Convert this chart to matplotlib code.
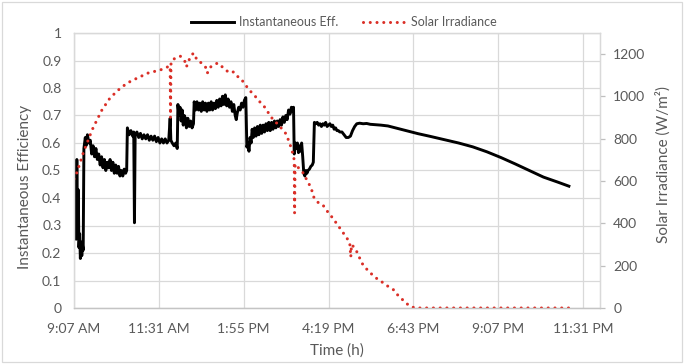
import matplotlib
matplotlib.use("Agg")
import matplotlib.pyplot as plt
from matplotlib.ticker import FixedLocator, FuncFormatter, MultipleLocator
from matplotlib.patches import Rectangle
from matplotlib.lines import Line2D

plt.rcParams['font.family'] = ['Lato', 'DejaVu Sans']

# time of day (hours) and instantaneous efficiency
eff_time = [
    9.12, 9.14, 9.16, 9.18, 9.20, 9.22, 9.24, 9.26, 9.28, 9.30, 9.32, 9.34,
    9.36, 9.38, 9.40, 9.42, 9.44, 9.46,
    9.50, 9.54, 9.58, 9.62, 9.66, 9.70, 9.74, 9.78, 9.82, 9.86, 9.90, 9.94,
    9.98, 10.02, 10.06, 10.10, 10.14, 10.18, 10.22, 10.26, 10.30, 10.34,
    10.38, 10.42, 10.46, 10.50, 10.54, 10.58, 10.61, 10.63,
    10.68, 10.73, 10.78, 10.81, 10.83, 10.85, 10.90, 10.95, 11.00, 11.05,
    11.10, 11.15, 11.20, 11.25, 11.30, 11.35, 11.40, 11.45, 11.50, 11.55,
    11.60, 11.65, 11.70, 11.75, 11.80, 11.84, 11.86, 11.90, 11.95, 12.00,
    12.04, 12.06,
    12.09, 12.12, 12.15, 12.18, 12.21, 12.24, 12.27, 12.30, 12.34, 12.38,
    12.42, 12.46, 12.50, 12.52, 12.56, 12.60, 12.64, 12.68, 12.72, 12.76,
    12.80, 12.84, 12.88, 12.92, 12.96, 13.00, 13.04, 13.08, 13.12, 13.16,
    13.20, 13.24, 13.28, 13.32, 13.36, 13.40, 13.44, 13.48, 13.52, 13.56,
    13.60, 13.64, 13.68, 13.71, 13.74, 13.78, 13.82, 13.86, 13.90, 13.94,
    13.98, 14.01, 14.04, 14.07, 14.10, 14.13, 14.16, 14.19, 14.23, 14.27,
    14.31, 14.35, 14.39, 14.43, 14.47, 14.51, 14.55, 14.59, 14.63, 14.67,
    14.71, 14.75, 14.79, 14.83, 14.87, 14.91, 14.95, 14.99, 15.03, 15.07,
    15.11, 15.15, 15.19, 15.23, 15.27, 15.31, 15.33, 15.35, 15.38, 15.41,
    15.44, 15.47, 15.50, 15.53, 15.56, 15.59, 15.62, 15.65, 15.68, 15.71,
    15.74, 15.78, 15.82, 15.86, 15.89, 15.92, 15.96, 16.00, 16.04, 16.08,
    16.12, 16.16, 16.20, 16.24, 16.28, 16.32, 16.36, 16.40, 16.44, 16.48,
    16.52, 16.56, 16.60, 16.64, 16.70, 16.76, 16.82, 16.88, 16.94, 17.00,
    17.06, 17.12, 17.20, 17.30, 17.40, 17.50, 17.60, 17.80, 18.00, 18.30,
    18.60, 18.85, 19.20, 19.60, 20.00, 20.40, 20.80, 21.20, 21.60, 22.00,
    22.40, 22.80, 23.12,
]
eff_value = [
    0.30, 0.26, 0.33, 0.25, 0.54, 0.30, 0.43, 0.22, 0.27, 0.18, 0.24, 0.19,
    0.23, 0.21, 0.58, 0.60, 0.62, 0.59,
    0.63, 0.60, 0.61, 0.56, 0.59, 0.55, 0.58, 0.54, 0.56, 0.52, 0.55, 0.51,
    0.54, 0.50, 0.53, 0.51, 0.54, 0.50, 0.53, 0.49, 0.52, 0.49,
    0.515, 0.48, 0.50, 0.48, 0.505, 0.49, 0.50, 0.655,
    0.63, 0.645, 0.625, 0.64, 0.31, 0.63, 0.64, 0.62, 0.635, 0.615,
    0.63, 0.615, 0.63, 0.61, 0.625, 0.61, 0.625, 0.605, 0.62, 0.60,
    0.615, 0.60, 0.615, 0.60, 0.61, 0.69, 0.61, 0.60, 0.59, 0.60,
    0.58, 0.74,
    0.70, 0.73, 0.68, 0.72, 0.665, 0.70, 0.69, 0.655, 0.69, 0.66,
    0.68, 0.655, 0.67, 0.75, 0.72, 0.75, 0.72, 0.745, 0.715, 0.75,
    0.72, 0.745, 0.715, 0.745, 0.72, 0.75, 0.72, 0.745, 0.725, 0.755,
    0.73, 0.76, 0.735, 0.77, 0.74, 0.775, 0.735, 0.76, 0.73, 0.75,
    0.715, 0.74, 0.70, 0.685, 0.71, 0.73, 0.72, 0.745, 0.73, 0.755,
    0.765, 0.585, 0.60, 0.57, 0.62, 0.60, 0.65, 0.62, 0.655, 0.625,
    0.66, 0.63, 0.665, 0.635, 0.665, 0.64, 0.67, 0.645, 0.675, 0.645,
    0.675, 0.65, 0.68, 0.655, 0.68, 0.66, 0.685, 0.665, 0.695, 0.675,
    0.70, 0.685, 0.72, 0.705, 0.73, 0.715, 0.73, 0.56, 0.60, 0.58,
    0.60, 0.565, 0.59, 0.57, 0.60, 0.55, 0.49, 0.48, 0.50, 0.49,
    0.50, 0.505, 0.515, 0.52, 0.53, 0.675, 0.67, 0.675, 0.665, 0.67,
    0.66, 0.67, 0.665, 0.675, 0.66, 0.665, 0.67, 0.66, 0.665, 0.65,
    0.655, 0.645, 0.645, 0.64, 0.64, 0.63, 0.62, 0.62, 0.625, 0.645,
    0.66, 0.67, 0.672, 0.67, 0.671, 0.668, 0.667, 0.665, 0.662, 0.652,
    0.642, 0.634, 0.624, 0.612, 0.600, 0.586, 0.568, 0.547, 0.524, 0.500,
    0.476, 0.458, 0.443,
]

# time of day (hours) and solar irradiance (W/m2)
irr_time = [
    9.12, 9.15, 9.29, 9.38, 9.49, 9.63, 9.77, 9.91, 10.14, 10.37, 10.62,
    10.91, 11.22, 11.56, 11.76, 11.82, 11.84, 11.85, 11.865, 11.985, 12.13,
    12.27, 12.30, 12.41, 12.50, 12.61, 12.69, 12.84, 12.89, 12.98, 13.18,
    13.32, 13.40, 13.55, 13.63, 13.74, 13.83, 13.97, 14.11, 14.25, 14.40,
    14.54, 14.68, 14.82, 14.96, 15.11, 15.22, 15.31, 15.35, 15.36, 15.375,
    15.53, 15.62, 15.73, 15.82, 15.90, 16.04, 16.16, 16.30, 16.44, 16.58,
    16.72, 16.84, 16.92, 16.95, 16.97, 17.06, 17.14, 17.26, 17.37, 17.51,
    17.60, 17.74, 17.88, 18.03, 18.17, 18.25, 18.37, 18.48, 18.62, 18.77,
    19.50, 20.50, 21.50, 22.50, 23.11,
]
irr_value = [
    610, 615, 685, 733, 780, 841, 889, 936, 993, 1030, 1063,
    1087, 1111, 1125, 1139, 1145, 1140, 900, 1165, 1182, 1190,
    1163, 1140, 1187, 1205, 1170, 1163, 1139, 1110, 1139, 1158,
    1139, 1125, 1111, 1116, 1095, 1087, 1054, 1025, 1000, 970,
    945, 905, 880, 855, 825, 780, 730, 700, 449, 680,
    652, 635, 596, 572, 525, 496, 487, 454, 425, 392,
    359, 330, 310, 241, 300, 284, 260, 213, 189, 165,
    151, 132, 118, 99, 85, 66, 47, 28, 9, 0,
    0, 0, 0, 0, 0,
]

time_ticks = [9.12, 11.52, 13.92, 16.32, 18.72, 21.12, 23.52]


def clock(h, pos=None):
    hh, mm = divmod(int(h * 60 + 1e-6), 60)
    suffix = 'AM' if hh < 12 else 'PM'
    return f"{hh % 12 or 12}:{mm:02d} {suffix}"


grid_c = '#D9D9D9'
text_c = '#595959'
red = '#DA2F27'
dots = (0, (0.01, 2.2))

fig = plt.figure(figsize=(6.85, 3.64), dpi=100)
ax1 = fig.add_axes([74 / 685, 1 - 308 / 364, 526 / 685, 275 / 364])
ax2 = ax1.twinx()

ax1.plot(eff_time, eff_value, color='black', lw=2.1, solid_joinstyle='round')
ax2.plot(irr_time, irr_value, color=red, lw=2.2,
         linestyle=dots, dash_capstyle='round')

ax1.set_xlim(9.12, 24)
ax1.set_ylim(0, 1)
ax2.set_ylim(0, 1300)

ax1.xaxis.set_major_locator(FixedLocator(time_ticks))
ax1.xaxis.set_major_formatter(FuncFormatter(clock))
ax1.yaxis.set_major_locator(MultipleLocator(0.1))
ax1.yaxis.set_major_formatter(FuncFormatter(lambda v, p: f"{v:.1f}".rstrip('0').rstrip('.') if v else "0"))
ax2.yaxis.set_major_locator(MultipleLocator(200))

ax1.set_axisbelow(True)
ax1.grid(True, color=grid_c, lw=0.9)

for ax in (ax1, ax2):
    for s in ax.spines.values():
        s.set_color(grid_c)
        s.set_linewidth(0.9)
    ax.spines['bottom'].set_color('#C4C4C4')

ax1.tick_params(axis='both', length=0, labelsize=10, labelcolor=text_c)
ax1.tick_params(axis='x', pad=11)
ax1.tick_params(axis='y', pad=9)
ax2.tick_params(axis='y', length=3.5, width=0.9, color='#BFBFBF',
                labelsize=10, labelcolor=text_c, pad=6)

fig.text(337 / 685, 1 - 351 / 364, 'Time (h)', ha='center', va='center',
         fontsize=11, color=text_c)
fig.text(25 / 685, 1 - 187 / 364, 'Instantaneous Efficiency', rotation=90,
         ha='center', va='center', fontsize=11, color=text_c)
fig.text(663 / 685, 1 - 165 / 364, 'Solar Irradiance (W/m²)', rotation=90,
         ha='center', va='center', fontsize=11, color=text_c)

handles = [Line2D([], [], color='black', lw=2.1),
           Line2D([], [], color=red, lw=2.2, linestyle=dots,
                  dash_capstyle='round')]
fig.legend(handles, ['Instantaneous Eff.', 'Solar Irradiance'], ncol=2,
           loc='center', bbox_to_anchor=(344 / 685, 1 - 22 / 364),
           frameon=False, fontsize=9, labelcolor=text_c, handlelength=3.4,
           handletextpad=0.4, columnspacing=2.0)

fig.patches.append(Rectangle((2 / 685, 2 / 364), 680 / 685, 360 / 364,
                             transform=fig.transFigure, fill=False,
                             edgecolor=grid_c, lw=0.9))

fig.savefig('out.png', dpi=100)
